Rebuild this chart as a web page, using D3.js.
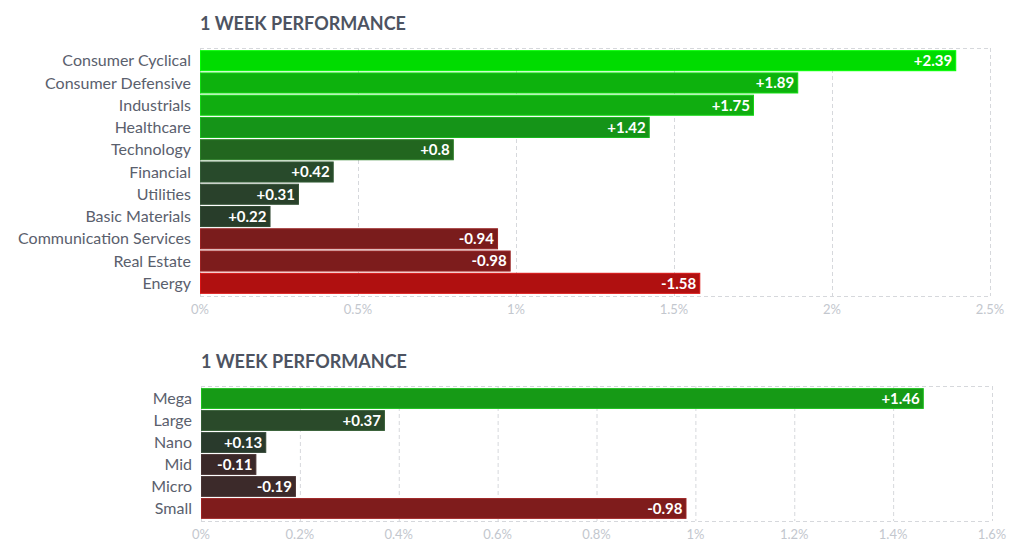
<!DOCTYPE html>
<html>
<head>
<meta charset="utf-8">
<script src="https://cdn.jsdelivr.net/npm/d3@7"></script>
<style>
  body { margin: 0; background: #fff; font-family: Lato, "Open Sans", sans-serif; }
  .title { font-size: 18px; font-weight: 700; fill: #4d5361; }
  .cat { font-size: 16px; fill: #5a606d; }
  .val { font-size: 15px; font-weight: 700; fill: #fff; }
  .tick-label { font-size: 13px; fill: #c3c7ce; }
</style>
</head>
<body>
<div id="graphic"></div>
<script>
// sector chart data
var sectors = ["Consumer Cyclical", "Consumer Defensive", "Industrials", "Healthcare", "Technology",
  "Financial", "Utilities", "Basic Materials", "Communication Services", "Real Estate", "Energy"];
var sectorValues = [2.39, 1.89, 1.75, 1.42, 0.8, 0.42, 0.31, 0.22, -0.94, -0.98, -1.58];
var sectorColors = ["#00dc00", "#0db20d", "#10ad10", "#159418", "#22661f", "#284a2b",
  "#29412b", "#283d2a", "#7a1c1c", "#7d1c1c", "#b01010"];
var sectorTicks = [0, 0.5, 1, 1.5, 2, 2.5];

// market cap chart data
var caps = ["Mega", "Large", "Nano", "Mid", "Micro", "Small"];
var capValues = [1.46, 0.37, 0.13, -0.11, -0.19, -0.98];
var capColors = ["#169a16", "#2a4a2a", "#293a2c", "#3a2828", "#3c2a2a", "#7f1c1c"];
var capTicks = [0, 0.2, 0.4, 0.6, 0.8, 1, 1.2, 1.4, 1.6];

var svg = d3.select("#graphic").append("svg")
    .attr("width", 1024)
    .attr("height", 558);

function drawChart(opts) {
  var g = svg.append("g")
      .attr("transform", "translate(" + opts.left + "," + opts.top + ")");

  var width = opts.width, height = opts.height;

  var xScale = d3.scaleLinear()
      .domain([0, d3.max(opts.ticks)])
      .range([0, width]);

  var yScale = d3.scaleBand()
      .domain(opts.cats)
      .range([0, height])
      .paddingInner(0.1)
      .paddingOuter(0.12);

  g.append("text")
      .attr("class", "title")
      .attr("x", 0)
      .attr("y", -18)
      .text("1 WEEK PERFORMANCE");

  // grid
  g.selectAll(".grid")
      .data(opts.ticks)
      .enter()
      .append("line")
      .attr("x1", d => xScale(d) + 0.5)
      .attr("x2", d => xScale(d) + 0.5)
      .attr("y1", 0)
      .attr("y2", height)
      .attr("stroke", "#d6d8dc")
      .attr("stroke-dasharray", "4,3");

  [0, height].forEach(function (y) {
    g.append("line")
        .attr("x1", 0)
        .attr("x2", width)
        .attr("y1", y + 0.5)
        .attr("y2", y + 0.5)
        .attr("stroke", "#d6d8dc")
        .attr("stroke-dasharray", "4,3");
  });

  // tick labels
  g.selectAll(".tick-label")
      .data(opts.ticks)
      .enter()
      .append("text")
      .attr("class", "tick-label")
      .attr("x", d => xScale(d))
      .attr("y", height + 18)
      .attr("text-anchor", "middle")
      .text(d => d + "%");

  var rows = opts.cats.map(function (c, i) {
    return { name: c, value: opts.values[i], color: opts.colors[i] };
  });

  g.selectAll(".bar")
      .data(rows)
      .enter()
      .append("rect")
      .attr("class", "bar")
      .attr("x", 0.5)
      .attr("y", d => yScale(d.name))
      .attr("width", d => xScale(Math.abs(d.value)))
      .attr("height", yScale.bandwidth())
      .attr("fill", d => d.color)
      .attr("stroke", d => d3.color(d.color).brighter(0.6))
      .attr("stroke-width", 1);

  g.selectAll(".cat")
      .data(rows)
      .enter()
      .append("text")
      .attr("class", "cat")
      .attr("x", -9)
      .attr("y", d => yScale(d.name) + yScale.bandwidth() / 2)
      .attr("dy", "0.35em")
      .attr("text-anchor", "end")
      .text(d => d.name);

  g.selectAll(".val")
      .data(rows)
      .enter()
      .append("text")
      .attr("class", "val")
      .attr("x", d => xScale(Math.abs(d.value)) - 3)
      .attr("y", d => yScale(d.name) + yScale.bandwidth() / 2)
      .attr("dy", "0.36em")
      .attr("text-anchor", "end")
      .text(d => (d.value > 0 ? "+" : "") + d.value);
}

drawChart({ left: 200, top: 48, width: 790, height: 248,
  cats: sectors, values: sectorValues, colors: sectorColors, ticks: sectorTicks });

drawChart({ left: 201, top: 386, width: 791, height: 135,
  cats: caps, values: capValues, colors: capColors, ticks: capTicks });
</script>
</body>
</html>
